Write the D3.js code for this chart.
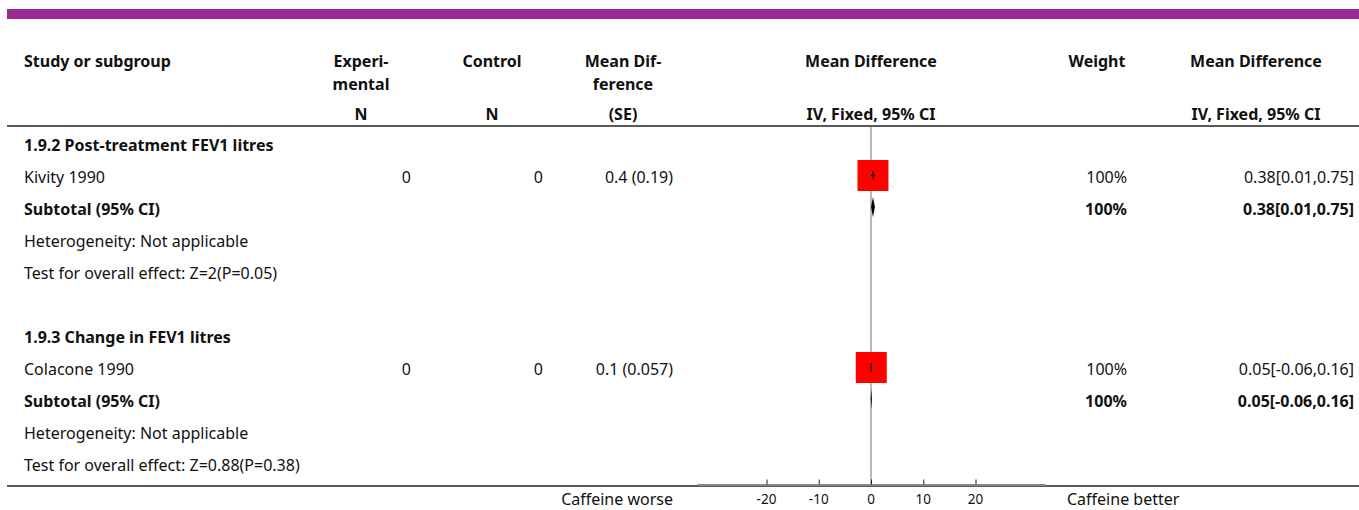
<!DOCTYPE html>
<html>
<head>
<meta charset="utf-8">
<script src="https://cdn.jsdelivr.net/npm/d3@7"></script>
<style>
  body { margin: 0; background: #fff; }
  svg text { font-family: "Noto Sans", sans-serif; fill: #111; }
</style>
</head>
<body>
<div id="chart"></div>
<script>
// Forest plot: caffeine, FEV1 outcomes
const subgroups = ["1.9.2 Post-treatment FEV1 litres", "1.9.3 Change in FEV1 litres"];
const studies = ["Kivity 1990", "Colacone 1990"];
const expN = [0, 0];
const ctrlN = [0, 0];
const mdSE = ["0.4 (0.19)", "0.1 (0.057)"];
const md = [0.38, 0.05];
const ciLo = [0.01, -0.06];
const ciHi = [0.75, 0.16];
const weights = [100, 100];
const heterogeneity = ["Not applicable", "Not applicable"];
const overallEffect = ["Z=2(P=0.05)", "Z=0.88(P=0.38)"];
const axisTicks = [-20, -10, 0, 10, 20];
const leftLabel = "Caffeine worse";
const rightLabel = "Caffeine better";

const W = 1359, H = 510;
const fs = 16;

const svg = d3.select('#chart').append('svg')
  .attr('width', W).attr('height', H)
  .attr('viewBox', [0, 0, W, H]);

// purple banner
svg.append('rect').attr('x', 7).attr('y', 9).attr('width', W - 7).attr('height', 10).attr('fill', '#9c2a95');

// column positions
const col = { study: 24, exp: 411, ctrl: 543, mdse: 673, weight: 1127, ci: 1354 };

const x = d3.scaleLinear().domain([-33.3, 33.3]).range([697, 1045]);
const row = d3.scaleLinear().domain([0, 10]).range([145, 465]);

function txt(xx, yy, s, opts = {}) {
  return svg.append('text')
    .attr('x', xx).attr('y', yy)
    .attr('dominant-baseline', 'central')
    .attr('font-size', opts.size || fs)
    .attr('font-weight', opts.bold ? 700 : 400)
    .attr('text-anchor', opts.anchor || 'start')
    .text(s);
}

// header
txt(col.study, 61, 'Study or subgroup', { bold: true });
txt(361, 61, 'Experi-', { bold: true, anchor: 'middle' });
txt(361, 84, 'mental', { bold: true, anchor: 'middle' });
txt(361, 114, 'N', { bold: true, anchor: 'middle' });
txt(492, 61, 'Control', { bold: true, anchor: 'middle' });
txt(492, 114, 'N', { bold: true, anchor: 'middle' });
txt(623, 61, 'Mean Dif-', { bold: true, anchor: 'middle' });
txt(623, 84, 'ference', { bold: true, anchor: 'middle' });
txt(623, 114, '(SE)', { bold: true, anchor: 'middle' });
txt(x(0), 61, 'Mean Difference', { bold: true, anchor: 'middle' });
txt(x(0), 114, 'IV, Fixed, 95% CI', { bold: true, anchor: 'middle' });
txt(1097, 61, 'Weight', { bold: true, anchor: 'middle' });
txt(1256, 61, 'Mean Difference', { bold: true, anchor: 'middle' });
txt(1256, 114, 'IV, Fixed, 95% CI', { bold: true, anchor: 'middle' });

svg.append('line').attr('x1', 7).attr('x2', W).attr('y1', 126).attr('y2', 126)
  .attr('stroke', '#222').attr('stroke-width', 1.5);

// zero line
svg.append('line').attr('x1', x(0)).attr('x2', x(0)).attr('y1', 127).attr('y2', 484)
  .attr('stroke', '#777').attr('stroke-width', 1);

const fmt = v => d3.format('.2f')(v).replace('\u2212', '-');

subgroups.forEach((g, i) => {
  const r0 = i * 6;
  txt(col.study, row(r0), g, { bold: true });
  // study row
  const ys = row(r0 + 1);
  txt(col.study, ys, studies[i]);
  txt(col.exp, ys, expN[i], { anchor: 'end' });
  txt(col.ctrl, ys, ctrlN[i], { anchor: 'end' });
  txt(col.mdse, ys, mdSE[i], { anchor: 'end' });
  txt(col.weight, ys, weights[i] + '%', { anchor: 'end' });
  txt(col.ci, ys, `${fmt(md[i])}[${fmt(ciLo[i])},${fmt(ciHi[i])}]`, { anchor: 'end' });
  const sz = 31 * Math.sqrt(weights[i] / 100);
  svg.append('rect')
    .attr('x', x(md[i]) - sz / 2).attr('y', ys - 1.5 - sz / 2)
    .attr('width', sz).attr('height', sz).attr('fill', '#ff0000');
  svg.append('line').attr('x1', x(ciLo[i])).attr('x2', x(ciHi[i]))
    .attr('y1', ys - 1.5).attr('y2', ys - 1.5).attr('stroke', '#000').attr('stroke-width', 1.2);
  svg.append('line').attr('x1', x(md[i])).attr('x2', x(md[i]))
    .attr('y1', ys - 6).attr('y2', ys + 3).attr('stroke', '#000').attr('stroke-width', 1.5);
  // subtotal row
  const yt = row(r0 + 2);
  txt(col.study, yt, 'Subtotal (95% CI)', { bold: true });
  txt(col.weight, yt, weights[i] + '%', { bold: true, anchor: 'end' });
  txt(col.ci, yt, `${fmt(md[i])}[${fmt(ciLo[i])},${fmt(ciHi[i])}]`, { bold: true, anchor: 'end' });
  const dy = yt - 2;
  svg.append('path')
    .attr('d', `M${x(ciLo[i])},${dy} L${x(md[i])},${dy - 10} L${x(ciHi[i])},${dy} L${x(md[i])},${dy + 10} Z`)
    .attr('fill', '#000');
  txt(col.study, row(r0 + 3), 'Heterogeneity: ' + heterogeneity[i]);
  txt(col.study, row(r0 + 4), 'Test for overall effect: ' + overallEffect[i]);
});

// bottom rule and axis
svg.append('line').attr('x1', 7).attr('x2', W).attr('y1', 486).attr('y2', 486)
  .attr('stroke', '#222').attr('stroke-width', 1.5);

const axis = d3.axisTop(x).tickValues(axisTicks).tickSize(5).tickSizeOuter(0);
const ag = svg.append('g').attr('transform', 'translate(0,484.5)').call(axis);
ag.select('.domain').attr('stroke', '#888').attr('stroke-width', 2);
ag.selectAll('.tick line').attr('stroke', '#222');
ag.selectAll('.tick text').remove();
axisTicks.forEach(t => {
  svg.append('text').attr('x', x(t)).attr('y', 499).attr('dominant-baseline', 'central')
    .attr('text-anchor', 'middle').attr('font-size', 13.5).text(String(t));
});

txt(col.mdse, 499, leftLabel, { anchor: 'end' });
txt(1067, 499, rightLabel);
</script>
</body>
</html>
